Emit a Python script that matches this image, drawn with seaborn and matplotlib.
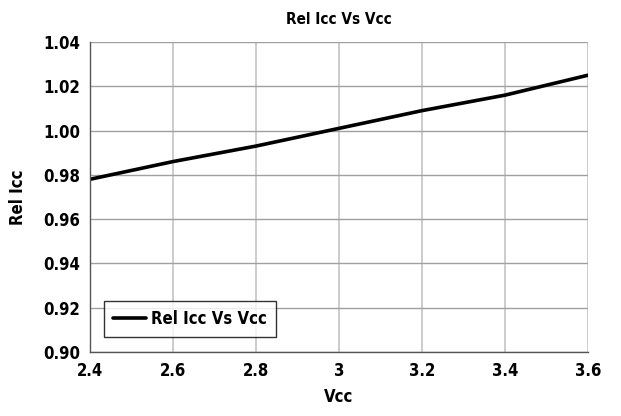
import matplotlib
matplotlib.use("Agg")
import matplotlib.pyplot as plt
import seaborn as sns
import pandas as pd
from matplotlib import font_manager

# Data
vcc = [2.4, 2.6, 2.8, 3.0, 3.2, 3.4, 3.6]
rel_icc = [0.978, 0.986, 0.993, 1.001, 1.009, 1.016, 1.025]
x_ticks = [2.4, 2.6, 2.8, 3.0, 3.2, 3.4, 3.6]
x_labels = ["2.4", "2.6", "2.8", "3", "3.2", "3.4", "3.6"]
y_ticks = [0.90, 0.92, 0.94, 0.96, 0.98, 1.00, 1.02, 1.04]

df = pd.DataFrame({"Vcc": vcc, "Rel Icc": rel_icc})

sns.set_style("white")
names = {f.name for f in font_manager.fontManager.ttflist}
narrow = [n for n in ["Liberation Sans Narrow", "DejaVu Sans Condensed", "DejaVu Sans"] if n in names]
plt.rcParams["font.family"] = narrow
plt.rcParams["font.stretch"] = "condensed"
plt.rcParams["font.weight"] = "bold"
plt.rcParams["text.color"] = "black"
plt.rcParams["axes.labelcolor"] = "black"

fig = plt.figure(figsize=(6.21, 4.16), dpi=100)
ax = fig.add_axes([90 / 621, 1 - 352 / 416, 498 / 621, 310 / 416])

sns.lineplot(data=df, x="Vcc", y="Rel Icc", ax=ax, color="black", linewidth=2.6,
             label="Rel Icc Vs Vcc")

ax.set_xlim(2.4, 3.6)
ax.set_ylim(0.90, 1.04)
ax.set_xticks(x_ticks)
ax.set_xticklabels(x_labels)
ax.set_yticks(y_ticks)
ax.set_yticklabels([f"{v:.2f}" for v in y_ticks])

ax.grid(True, axis="x", color="#c4c4c4", linewidth=1.2)
ax.grid(True, axis="y", color="#a0a0a0", linewidth=1.0)
for side in ["left", "bottom"]:
    ax.spines[side].set_color("#555555")
    ax.spines[side].set_linewidth(1.0)
for side in ["top", "right"]:
    ax.spines[side].set_visible(False)

ax.tick_params(axis="both", which="both", direction="out", length=4, width=1,
               color="#555555", labelsize=12, pad=3, labelcolor="black")
for lbl in ax.get_xticklabels() + ax.get_yticklabels():
    lbl.set_fontweight("bold")

ax.set_title("Rel Icc Vs Vcc", fontsize=11, fontweight="bold", pad=13, color="black")
ax.set_xlabel("Vcc", fontsize=12, fontweight="bold", labelpad=6)
ax.set_ylabel("Rel Icc", fontsize=12, fontweight="bold")
ax.yaxis.set_label_coords(-0.126, 0.5)

leg = ax.legend(loc="lower left", bbox_to_anchor=(0.028, 0.048), borderaxespad=0,
                frameon=True, fancybox=False, edgecolor="black", fontsize=12,
                handlelength=2.0, handletextpad=0.3, borderpad=0.55)
leg.get_frame().set_linewidth(1.0)
for t in leg.get_texts():
    t.set_fontweight("bold")
    t.set_color("black")

fig.savefig("out.png", dpi=100, facecolor="white")
